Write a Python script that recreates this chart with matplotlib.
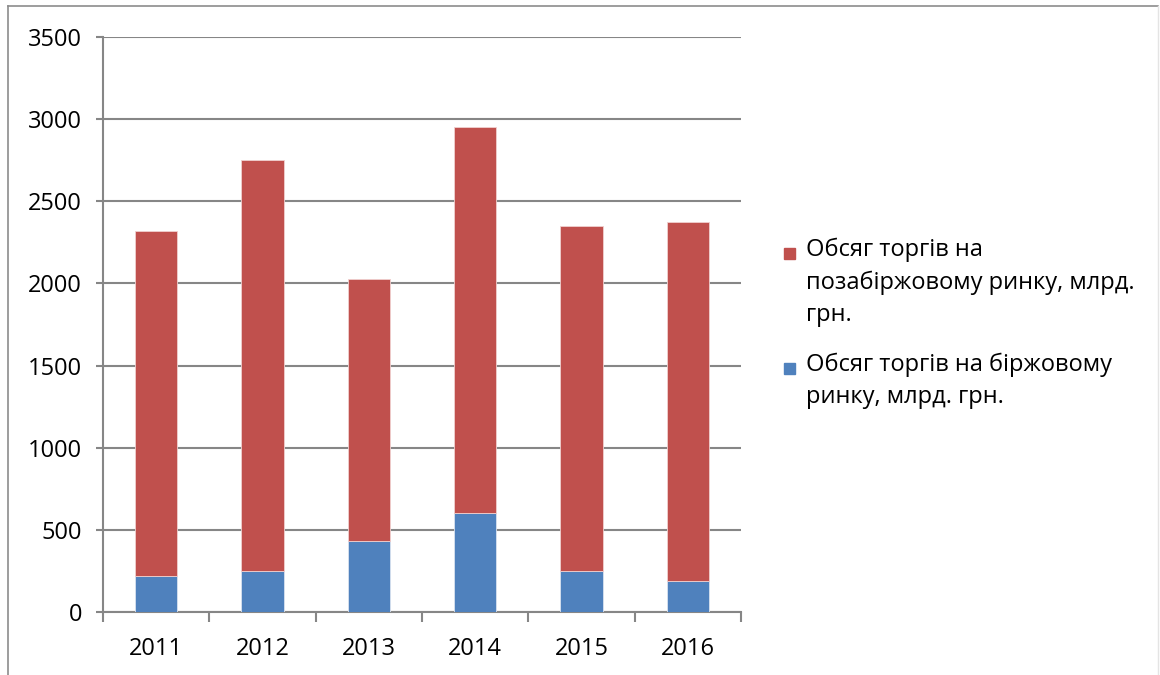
import matplotlib.pyplot as plt
from matplotlib.patches import Rectangle
from matplotlib.lines import Line2D

plt.rcParams['font.family'] = ['Open Sans', 'DejaVu Sans']

years = ["2011", "2012", "2013", "2014", "2015", "2016"]
exchange = [218, 250, 432, 600, 250, 188]
otc_total = [2320, 2750, 2028, 2952, 2350, 2372]
otc = [t - e for t, e in zip(otc_total, exchange)]

label_otc = "Обсяг торгів на\nпозабіржовому ринку, млрд.\nгрн."
label_exch = "Обсяг торгів на біржовому\nринку, млрд. грн."

RED = "#C0504D"
BLUE = "#4F81BD"
GRID = "#868686"

W, H = 1160, 675
fig = plt.figure(figsize=(W / 100, H / 100), dpi=100)
ax = fig.add_axes([103 / W, 1 - 612 / H, (741 - 103) / W, (612 - 37) / H])

x = range(len(years))
ax.bar(x, exchange, width=0.40, color=BLUE, edgecolor="#d9e2f0", linewidth=0.6, zorder=3)
ax.bar(x, otc, width=0.40, bottom=exchange, color=RED, edgecolor="#f0d0cf",
       linewidth=0.6, zorder=3)

ax.set_ylim(0, 3500)
ax.set_xlim(-0.5, len(years) - 0.5)
ax.set_yticks(range(0, 3501, 500))
ax.yaxis.grid(True, color=GRID, linewidth=1.5, zorder=0)
ax.set_xticks([i for i in x])
ax.set_xticklabels(years)
ax.set_xticks([i - 0.5 for i in range(len(years) + 1)], minor=True)
ax.tick_params(axis="x", which="major", length=0, pad=18, labelsize=17)
ax.tick_params(axis="x", which="minor", length=7, width=1.5, color=GRID)
ax.tick_params(axis="y", length=5, width=1.5, color=GRID, pad=10, labelsize=17)

for side in ["top", "right"]:
    ax.spines[side].set_visible(False)
for side in ["left", "bottom"]:
    ax.spines[side].set_color(GRID)
    ax.spines[side].set_linewidth(1.5)

# legend drawn by hand so the swatch sits on the first text line
entries = [(RED, label_otc, 253), (BLUE, label_exch, 368)]
for color, text, ytop in entries:
    fig.patches.append(Rectangle((784 / W, 1 - (ytop + 6) / H), 11 / W, 11 / H,
                                 transform=fig.transFigure, color=color))
    fig.text(806 / W, 1 - (ytop - 15) / H, text, fontsize=17, va="top", ha="left",
             linespacing=1.45)

# outer frame of the chart area
fig.lines.append(Line2D([8 / W, 8 / W], [0, 1 - 6 / H], transform=fig.transFigure,
                        color="#8c8c8c", linewidth=1.2))
fig.lines.append(Line2D([8 / W, 1158 / W], [1 - 6 / H, 1 - 6 / H],
                        transform=fig.transFigure, color="#8c8c8c", linewidth=1.2))
fig.lines.append(Line2D([1158 / W, 1158 / W], [0, 1 - 6 / H], transform=fig.transFigure,
                        color="#e4e4e4", linewidth=1.0))

fig.savefig("out.png", dpi=100)
